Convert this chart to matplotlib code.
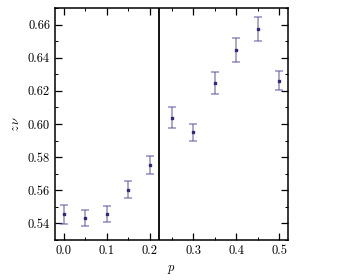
import matplotlib
matplotlib.use("Agg")
import matplotlib.pyplot as plt
from matplotlib.ticker import MultipleLocator

p = [0.0, 0.05, 0.1, 0.15, 0.2, 0.25, 0.3, 0.35, 0.4, 0.45, 0.5]
z_nu = [0.5454, 0.5432, 0.5458, 0.5604, 0.5752, 0.6038, 0.595, 0.6246, 0.6448, 0.6576, 0.6262]
z_nu_err = [0.0056, 0.005, 0.005, 0.0051, 0.0056, 0.0064, 0.0052, 0.0066, 0.0072, 0.0073, 0.0058]
p_c = 0.22

plt.rcParams.update(
    {
        "font.family": "serif",
        "font.serif": ["cmr10"],
        "mathtext.fontset": "cm",
        "axes.formatter.use_mathtext": True,
        "font.size": 9,
    }
)

fig = plt.figure(figsize=(3.43, 2.8), dpi=100)
ax = fig.add_axes([0.160, 0.143, 0.680, 0.828])

ax.errorbar(p, z_nu, yerr=z_nu_err, fmt="none", ecolor="#5b52a3", alpha=0.6,
            elinewidth=1.2, capsize=3, capthick=1.2)
ax.plot(p, z_nu, "s", color="#2c2a7a", markersize=2, linestyle="none")
ax.axvline(p_c, color="black", linewidth=1.3)

ax.set_xlim(-0.02, 0.52)
ax.set_ylim(0.53, 0.67)
ax.xaxis.set_major_locator(MultipleLocator(0.1))
ax.xaxis.set_minor_locator(MultipleLocator(0.05))
ax.yaxis.set_major_locator(MultipleLocator(0.02))
ax.yaxis.set_minor_locator(MultipleLocator(0.01))
ax.xaxis.set_major_formatter(matplotlib.ticker.FormatStrFormatter("%.1f"))
ax.yaxis.set_major_formatter(matplotlib.ticker.FormatStrFormatter("%.2f"))
ax.tick_params(which="both", direction="in", top=True, right=True)
ax.tick_params(which="major", length=5, width=0.9)
ax.tick_params(which="minor", length=2.5, width=0.7)
for spine in ax.spines.values():
    spine.set_linewidth(1.1)

ax.set_xlabel("$p$")
ax.set_ylabel(r"$z\,\nu$")

fig.savefig("out.png", dpi=100)
